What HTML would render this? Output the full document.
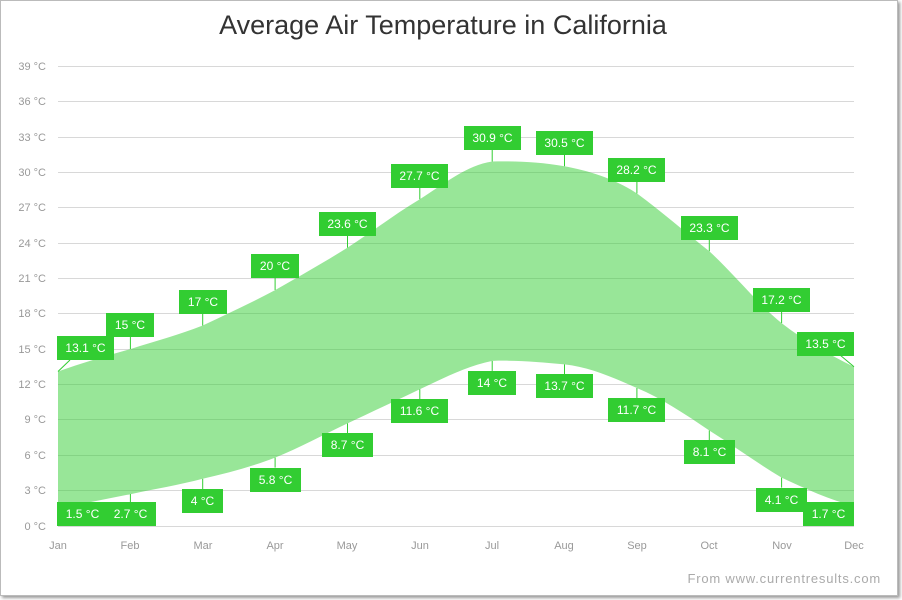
<!DOCTYPE html>
<html><head><meta charset="utf-8"><style>
body{margin:0;background:#fff;}
.frame{position:absolute;left:0;top:0;width:896px;height:594px;border:1px solid #bbb;box-shadow:2px 2px 3px #999;background:#fff;}
svg{position:absolute;left:0;top:0;font-family:"Liberation Sans",sans-serif;}
</style></head><body>
<div class="frame"></div>
<svg width="902" height="600" viewBox="0 0 902 600">
<text x="443" y="34" text-anchor="middle" font-size="27" fill="#333">Average Air Temperature in California</text>
<g stroke="#d8d8d8" stroke-width="1">
<line x1="58" x2="854" y1="66.5" y2="66.5"/><line x1="58" x2="854" y1="101.5" y2="101.5"/>
<line x1="58" x2="854" y1="137.5" y2="137.5"/><line x1="58" x2="854" y1="172.5" y2="172.5"/>
<line x1="58" x2="854" y1="207.5" y2="207.5"/><line x1="58" x2="854" y1="243.5" y2="243.5"/>
<line x1="58" x2="854" y1="278.5" y2="278.5"/><line x1="58" x2="854" y1="313.5" y2="313.5"/>
<line x1="58" x2="854" y1="349.5" y2="349.5"/><line x1="58" x2="854" y1="384.5" y2="384.5"/>
<line x1="58" x2="854" y1="419.5" y2="419.5"/><line x1="58" x2="854" y1="455.5" y2="455.5"/>
<line x1="58" x2="854" y1="490.5" y2="490.5"/><line x1="58" x2="854" y1="526.5" y2="526.5"/>
</g>
<g font-size="11" fill="#999" text-anchor="end">
<text x="46" y="70">39 °C</text><text x="46" y="105">36 °C</text><text x="46" y="141">33 °C</text>
<text x="46" y="176">30 °C</text><text x="46" y="211">27 °C</text><text x="46" y="247">24 °C</text>
<text x="46" y="282">21 °C</text><text x="46" y="317">18 °C</text><text x="46" y="353">15 °C</text>
<text x="46" y="388">12 °C</text><text x="46" y="423">9 °C</text><text x="46" y="459">6 °C</text>
<text x="46" y="494">3 °C</text><text x="46" y="530">0 °C</text>
</g>
<g font-size="11" fill="#999" text-anchor="middle">
<text x="58" y="549">Jan</text><text x="130" y="549">Feb</text><text x="203" y="549">Mar</text>
<text x="275" y="549">Apr</text><text x="347" y="549">May</text><text x="420" y="549">Jun</text>
<text x="492" y="549">Jul</text><text x="564" y="549">Aug</text><text x="637" y="549">Sep</text>
<text x="709" y="549">Oct</text><text x="782" y="549">Nov</text><text x="854" y="549">Dec</text>
</g>
<path fill="rgba(50,205,50,0.5)" d="M58,371.5 C82,363 106,356 130.4,349.1 C155,341 179,335 202.7,325.5 C227,314 251,303 275.1,290.1 C300,276 323,263 347.5,247.6 C372,232 395,214 419.8,199.3 C444,184 467,165 492.2,161.5 C516,161 540,162 564.5,166.3 C589,171 613,178 636.9,193.4 C662,212 685,232 709.3,251.2 C734,274 757,303 781.6,323.1 C806,342 830,355 854,366.8 L854,506 C830,500 806,489 781.6,477.6 C757,463 734,446 709.3,430.5 C685,414 661,398 636.9,388.0 C612,377 589,367 564.5,364.4 C540,362 516,360 492.2,360.9 C467,366 444,378 419.8,389.2 C395,401 372,412 347.5,423.4 C323,435 299,448 275.1,457.6 C251,467 227,473 202.7,478.8 C179,485 155,489 130.4,494.2 C106,499 82,504 58,508.3 Z"/>
<g stroke="#32cd32" stroke-width="1">
<line x1="58" y1="371.5" x2="70" y2="360"/><line x1="130.4" y1="349" x2="130.4" y2="337"/>
<line x1="202.7" y1="325.5" x2="202.7" y2="313.5"/><line x1="275.1" y1="290" x2="275.1" y2="278"/>
<line x1="347.5" y1="247.6" x2="347.5" y2="235.6"/><line x1="419.8" y1="199.3" x2="419.8" y2="187.3"/>
<line x1="492.2" y1="161.5" x2="492.2" y2="149.5"/><line x1="564.5" y1="166.3" x2="564.5" y2="154.3"/>
<line x1="636.9" y1="193.4" x2="636.9" y2="181.4"/><line x1="709.3" y1="251.2" x2="709.3" y2="239.2"/>
<line x1="781.6" y1="323.1" x2="781.6" y2="311.1"/><line x1="854" y1="366.8" x2="840" y2="355"/>
<line x1="130.4" y1="494" x2="130.4" y2="502"/><line x1="202.7" y1="478.8" x2="202.7" y2="489"/>
<line x1="275.1" y1="457.6" x2="275.1" y2="467.6"/><line x1="347.5" y1="423.4" x2="347.5" y2="433.4"/>
<line x1="419.8" y1="389.2" x2="419.8" y2="399.2"/><line x1="492.2" y1="360.9" x2="492.2" y2="370.9"/>
<line x1="564.5" y1="364.4" x2="564.5" y2="374.4"/><line x1="636.9" y1="388" x2="636.9" y2="398"/>
<line x1="709.3" y1="430.5" x2="709.3" y2="440.5"/><line x1="781.6" y1="477.6" x2="781.6" y2="487.6"/>
</g>
<g fill="#32cd32">
<rect x="57" y="336" width="57" height="24"/><rect x="106" y="313" width="48" height="24"/>
<rect x="179" y="290" width="48" height="24"/><rect x="251" y="254" width="48" height="24"/>
<rect x="319" y="212" width="57" height="24"/><rect x="391" y="164" width="57" height="24"/>
<rect x="464" y="126" width="57" height="24"/><rect x="536" y="131" width="57" height="24"/>
<rect x="608" y="158" width="57" height="24"/><rect x="681" y="216" width="57" height="24"/>
<rect x="753" y="288" width="57" height="24"/><rect x="797" y="332" width="57" height="24"/>
<rect x="57" y="502" width="51" height="24"/><rect x="105" y="502" width="51" height="24"/>
<rect x="182" y="489" width="41" height="24"/><rect x="250" y="468" width="51" height="24"/>
<rect x="322" y="433" width="51" height="24"/><rect x="391" y="399" width="57" height="24"/>
<rect x="468" y="371" width="48" height="24"/><rect x="536" y="374" width="57" height="24"/>
<rect x="608" y="398" width="57" height="24"/><rect x="684" y="440" width="51" height="24"/>
<rect x="756" y="488" width="51" height="24"/><rect x="803" y="502" width="51" height="24"/>
</g>
<g font-size="12" fill="#fff" text-anchor="middle">
<text x="85.5" y="352">13.1 °C</text><text x="130" y="329">15 °C</text>
<text x="203" y="306">17 °C</text><text x="275" y="270">20 °C</text>
<text x="347.5" y="228">23.6 °C</text><text x="419.5" y="180">27.7 °C</text>
<text x="492.5" y="142">30.9 °C</text><text x="564.5" y="147">30.5 °C</text>
<text x="636.5" y="174">28.2 °C</text><text x="709.5" y="232">23.3 °C</text>
<text x="781.5" y="304">17.2 °C</text><text x="825.5" y="348">13.5 °C</text>
<text x="82.5" y="518">1.5 °C</text><text x="130.5" y="518">2.7 °C</text>
<text x="202.5" y="505">4 °C</text><text x="275.5" y="484">5.8 °C</text>
<text x="347.5" y="449">8.7 °C</text><text x="419.5" y="415">11.6 °C</text>
<text x="492" y="387">14 °C</text><text x="564.5" y="390">13.7 °C</text>
<text x="636.5" y="414">11.7 °C</text><text x="709.5" y="456">8.1 °C</text>
<text x="781.5" y="504">4.1 °C</text><text x="828.5" y="518">1.7 °C</text>
</g>
<text x="881" y="583" text-anchor="end" font-size="13" fill="#aaa" letter-spacing="0.8">From www.currentresults.com</text>
</svg>
</body></html>
